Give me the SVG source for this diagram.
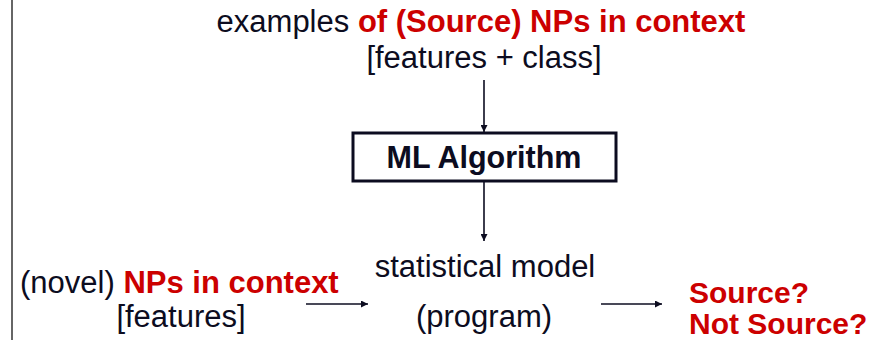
<svg xmlns="http://www.w3.org/2000/svg" width="892" height="340" viewBox="0 0 892 340">
  <defs>
    <marker id="head" viewBox="0 0 10 10" refX="10" refY="5" markerWidth="7" markerHeight="7" markerUnits="userSpaceOnUse" orient="auto">
      <path d="M0,0 L10,5 L0,10 z" fill="#0c0c20"/>
    </marker>
    <style>
      .t { font-family: "Liberation Sans", Arial, sans-serif; font-size: 31px; fill: #0c0c20; }
      .b { font-weight: bold; }
      .red { fill: #cc0000; }
      .ans { font-size: 30px; }
      .edge { stroke: #0c0c20; stroke-width: 1.6; fill: none; marker-end: url(#head); }
    </style>
  </defs>
  <rect width="892" height="340" fill="#ffffff"/>
  <line x1="12" y1="0" x2="12" y2="340" stroke="#333333" stroke-width="1.5"/>

  <g id="training-examples">
    <text class="t" x="481" y="32" text-anchor="middle">examples <tspan class="b red">of (Source) NPs in context</tspan></text>
    <text class="t" x="484" y="68" text-anchor="middle">[features + class]</text>
  </g>

  <g id="ml-algorithm">
    <rect x="353" y="133" width="263" height="48" fill="#ffffff" stroke="#0c0c20" stroke-width="3"/>
    <text class="t b" x="484" y="168" text-anchor="middle" style="font-size:30.5px">ML Algorithm</text>
  </g>

  <g id="statistical-model">
    <text class="t" x="485" y="277" text-anchor="middle">statistical model</text>
    <text class="t" x="484" y="327" text-anchor="middle">(program)</text>
  </g>

  <g id="novel-nps">
    <text class="t" x="20" y="293">(novel) <tspan class="b red">NPs in context</tspan></text>
    <text class="t" x="181" y="327" text-anchor="middle">[features]</text>
  </g>

  <g id="decision">
    <text class="t b red ans" x="689" y="303">Source?</text>
    <text class="t b red ans" x="689" y="334">Not Source?</text>
  </g>

  <g id="connectors">
    <line class="edge" x1="484" y1="80" x2="484" y2="132"/>
    <line class="edge" x1="484" y1="182" x2="484" y2="241"/>
    <line class="edge" x1="306" y1="304" x2="368" y2="304"/>
    <line class="edge" x1="601" y1="304" x2="662" y2="304"/>
  </g>
</svg>
